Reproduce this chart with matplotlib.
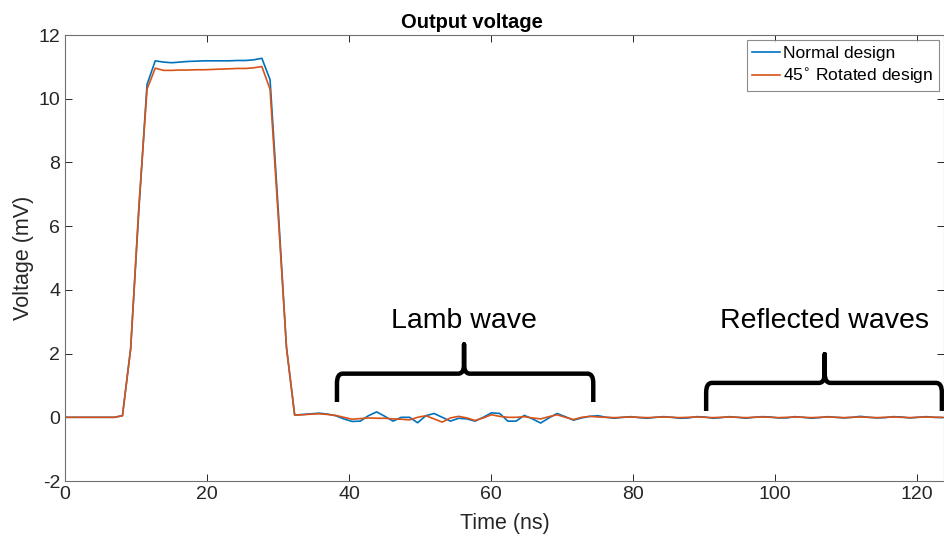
import numpy as np
import matplotlib.pyplot as plt
from matplotlib.path import Path
from matplotlib.patches import PathPatch

plt.rcParams['font.family'] = ['Liberation Sans', 'DejaVu Sans']
plt.rcParams['axes.unicode_minus'] = False

dt = 1.155
v_normal = [0, 0, 0, 0, 0, 0, 0, 0.05, 2.15, 6.5,
            10.45, 11.19, 11.15, 11.13, 11.15, 11.17, 11.18, 11.19, 11.19, 11.19,
            11.19, 11.2, 11.2, 11.22, 11.27, 10.6, 6.5, 2.2, 0.07, 0.09,
            0.11, 0.13, 0.1, 0.05, -0.05, -0.13, -0.12, 0.05, 0.17, 0.03,
            -0.12, 0.0, 0.0, -0.17, 0.05, 0.12, 0.0, -0.12, -0.03, -0.05,
            -0.12, 0.0, 0.14, 0.12, -0.12, -0.12, 0.06, -0.05, -0.18, -0.02,
            0.12, 0.02, -0.09, -0.02, 0.03, 0.05, 0.0, -0.03, 0.0, 0.02,
            -0.01, -0.03, 0.0, 0.02, 0.0, -0.03, -0.02, 0.02, 0.01, -0.03,
            -0.01, 0.02, 0.0, -0.03, 0.0, 0.02, 0.01, -0.02, -0.02, 0.02,
            0.0, -0.03, -0.01, 0.02, 0.0, -0.02, 0.0, 0.03, 0.0, -0.02,
            -0.01, 0.02, 0.01, -0.02, 0.0, 0.02, 0.0, -0.01]
v_rotated = [0, 0, 0, 0, 0, 0, 0, 0.05, 2.15, 6.6,
             10.3, 10.96, 10.89, 10.89, 10.9, 10.9, 10.91, 10.91, 10.92, 10.93,
             10.94, 10.95, 10.95, 10.97, 11.01, 10.3, 6.3, 2.2, 0.07, 0.08,
             0.1, 0.11, 0.09, 0.06, 0.0, -0.06, -0.04, -0.02, -0.03, -0.03,
             -0.05, -0.06, -0.08, 0.0, 0.05, -0.05, -0.15, -0.02, 0.03, -0.02,
             -0.1, -0.02, 0.08, 0.03, 0.0, 0.0, 0.02, -0.02, -0.05, 0.02,
             0.08, 0.0, -0.07, 0.0, 0.03, 0.01, 0.0, -0.01, 0.0, 0.01,
             0.0, -0.01, 0.0, 0.01, 0.0, -0.01, 0.0, 0.01, 0.0, -0.01,
             0.0, 0.01, 0.0, -0.01, 0.0, 0.01, 0.0, -0.01, 0.0, 0.01,
             0.0, -0.01, 0.0, 0.01, 0.0, -0.01, 0.0, 0.01, 0.0, -0.01,
             0.0, 0.01, 0.0, -0.01, 0.0, 0.01, 0.0, 0.0]
t = np.arange(len(v_normal)) * dt

noms = ['Normal design', r'45$^{\circ}$ Rotated design']
couleurs = ['#0072BD', '#D95319']

# accolades : (x gauche, x droite, x centre, y bas, y barre, y pointe)
accolades = [(38.3, 74.4, 56.2, 0.48, 1.37, 2.29),
             (90.3, 123.5, 107.0, 0.2, 1.08, 1.98)]
textes = [('Lamb wave', 56.2, 2.6), ('Reflected waves', 107.0, 2.6)]

## Figure
fig = plt.figure(figsize=(9.44, 5.42), dpi=100)
ax = fig.add_axes([0.0689, 0.1125, 0.9311, 0.8229])

ax.plot(t, v_normal, color=couleurs[0], lw=1.2, label=noms[0])
ax.plot(t, v_rotated, color=couleurs[1], lw=1.2, label=noms[1])

ax.set_xlim(0, 123.8)
ax.set_ylim(-2, 12)
ax.set_xticks(np.arange(0, 121, 20))
ax.set_yticks(np.arange(-2, 13, 2))
ax.tick_params(direction='in', top=True, right=True, labelsize=14,
               colors='#262626', length=5, width=0.7)
for s in ax.spines.values():
    s.set_color('#707070')
    s.set_linewidth(0.8)

ax.set_title('Output voltage', fontsize=14.5, fontweight='bold', color='black',
             pad=5, x=0.463)
ax.set_xlabel('Time (ns)', fontsize=15.5, color='#262626', labelpad=7)
ax.set_ylabel('Voltage (mV)', fontsize=15.5, color='#262626', labelpad=3)

leg = ax.legend(loc='upper right', fontsize=12.5, frameon=True, fancybox=False,
                handlelength=1.6, handletextpad=0.2, borderpad=0.3,
                labelspacing=0.3, borderaxespad=0.3)
leg.get_frame().set_edgecolor('#707070')
leg.get_frame().set_linewidth(0.8)

## Accolades
for x0, x1, xc, yb, yh, yp in accolades:
    rx, ry = 0.8, 0.3
    verts = [(x0, yb), (x0, yh - ry), (x0, yh), (x0 + rx, yh),
             (xc - rx, yh), (xc, yh), (xc, yh + ry), (xc, yp),
             (xc, yh + ry), (xc, yh), (xc + rx, yh),
             (x1 - rx, yh), (x1, yh), (x1, yh - ry), (x1, yb)]
    codes = [Path.MOVETO, Path.LINETO, Path.CURVE3, Path.CURVE3,
             Path.LINETO, Path.CURVE3, Path.CURVE3, Path.LINETO,
             Path.LINETO, Path.CURVE3, Path.CURVE3,
             Path.LINETO, Path.CURVE3, Path.CURVE3, Path.LINETO]
    ax.add_patch(PathPatch(Path(verts, codes), fill=False, lw=3.2,
                           edgecolor='black', capstyle='butt', joinstyle='round',
                           clip_on=False))

for txt, x, y in textes:
    ax.text(x, y, txt, fontsize=20.5, ha='center', va='bottom', color='black')

fig.savefig('out.png', dpi=100)
